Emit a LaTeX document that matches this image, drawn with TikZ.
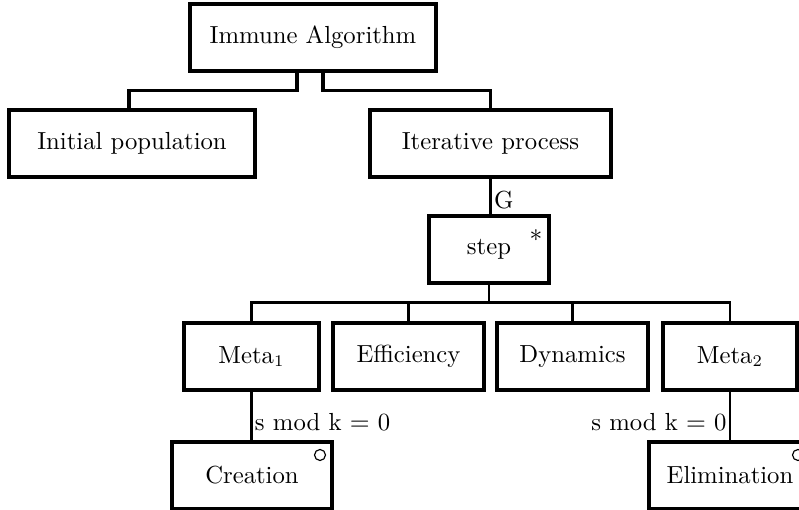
\documentclass[tikz,border=0pt]{standalone}
\usetikzlibrary{calc}
\begin{document}
\begin{tikzpicture}[x=0.4292pt,y=-0.4292pt,
  bx/.style 2 args={draw, line width=1.3pt, minimum width=#1*0.4292pt, minimum height=#2*0.4292pt, inner sep=0pt, font=\fontsize{10.6}{12.7}\selectfont},
  thickconn/.style={line width=1.3pt},
  conn/.style={line width=1.0pt},
  lbl/.style={inner sep=1pt, font=\fontsize{10.6}{12.7}\selectfont},
  mark circ/.style={circle, draw, line width=0.5pt, minimum size=11*0.4292pt, inner sep=0pt}]
\useasboundingbox (0,0) rectangle (799,510);
\clip (0,0) rectangle (799,510);
\node[bx={246}{67}] (IA) at (313,37.5) {Immune Algorithm};
\node[bx={246}{67}] (Init) at (132,143.5) {Initial population};
\node[bx={241}{67}] (Iter) at (490.5,143.5) {Iterative process};
\node[bx={120}{67}] (Step) at (489,249.5) {step};
\node[lbl] (star) at (536,236) {$*$};
\node[bx={135}{67}] (Meta1) at (251.5,356.5) {Meta$_1$};
\node[bx={151}{67}] (Eff) at (408.5,356.5) {Efficiency};
\node[bx={151}{67}] (Dyn) at (572.5,356.5) {Dynamics};
\node[bx={134}{67}] (Meta2) at (730,356.5) {Meta$_2$};
\node[bx={160}{67}] (Crea) at (252,475.5) {Creation};
\node[bx={162}{67}] (Elim) at (730,475.5) {Elimination};
\node[mark circ] (c1) at (320,455) {};
\node[mark circ] (c2) at (798,455) {};
% connectors
\draw[thickconn] ($(IA.south)+(-16,0)$) -- ++(0,18) -| ($(Init.north)+(-3,0)$);
\draw[thickconn] ($(IA.south)+(10,0)$) -- ++(0,18) -| (Iter.north);
\draw[conn] (Iter.south) -- node[lbl, right, pos=0.6] (G) {G} (Iter.south |- Step.north);
\draw[conn] (Step.south) -- ++(0,18) coordinate (bus);
\draw[conn] (bus) -| (Meta1.north);
\draw[conn] (bus) -| (Eff.north);
\draw[conn] (bus) -| (Dyn.north);
\draw[conn] (bus) -| (Meta2.north);
\draw[conn] (Meta1.south) -- node[lbl, right, pos=0.63] (l1) {s mod k $=$ 0} (Meta1.south |- Crea.north);
\draw[conn] (Meta2.south) -- node[lbl, left, pos=0.63] (l2) {s mod k $=$ 0} (Elim.north);
\end{tikzpicture}
\end{document}
